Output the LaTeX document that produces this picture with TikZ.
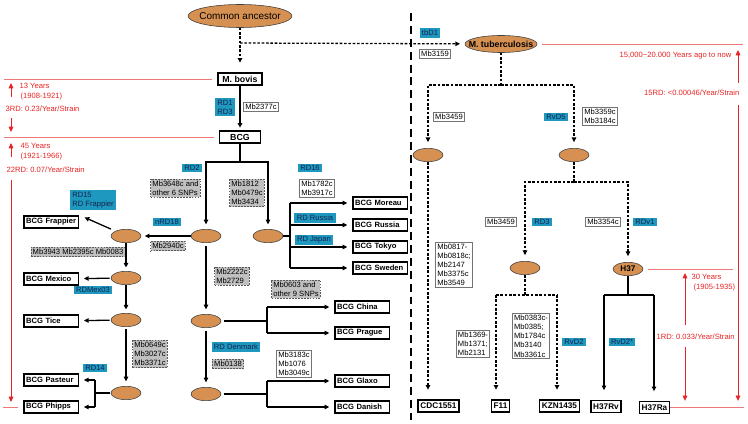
\documentclass[tikz,border=0pt]{standalone}
\usepackage{fontspec}
\setmainfont{Liberation Sans}
\usepackage{xcolor}
\usepackage{tikz}
\usetikzlibrary{arrows.meta,positioning,shapes.geometric}

\begin{document}
\begin{tikzpicture}[x=0.03cm,y=-0.03cm,line width=1.1pt,
  >={Triangle[length=4pt,width=3.8pt]},
  dsh/.style={dash pattern=on 2.2pt off 1.5pt},
  ell/.style={ellipse,draw=black!75,line width=0.5pt,fill=ellfill,inner sep=0pt,
    minimum width=0.9cm,minimum height=0.4cm},
  leaf/.style={draw,line width=1.3pt,fill=white,anchor=west,text width=1.5cm,
    inner xsep=2pt,inner ysep=1.5pt,minimum height=0.37cm,
    font=\bfseries\fontsize{6.5}{7}\selectfont},
  tipbox/.style={draw,line width=1.3pt,fill=white,inner xsep=2pt,inner ysep=1.5pt,
    minimum height=0.37cm,font=\bfseries\fontsize{7}{8}\selectfont},
  rd/.style={fill=rdblue,text=rdtext,inner xsep=2pt,inner ysep=1.5pt,align=left,
    font=\fontsize{6.5}{7.8}\selectfont},
  snp/.style={fill=snpgray,draw=black!65,line width=0.6pt,dash pattern=on 1.5pt off 1pt,
    inner sep=1.5pt,align=left,font=\fontsize{6.5}{7.8}\selectfont},
  mb/.style={fill=white,draw=black!55,line width=0.6pt,inner sep=1.5pt,align=left,
    font=\fontsize{6.5}{7.8}\selectfont},
  redtxt/.style={text=annored,inner sep=0pt,anchor=west,font=\fontsize{6.5}{7.8}\selectfont},
  redln/.style={draw=redline,line width=0.7pt},
  redarr/.style={draw=annored,line width=0.7pt,-{Triangle[length=4.5pt,width=4pt]}},
  ]
  \definecolor{ellfill}{RGB}{214,145,82}
  \definecolor{rdblue}{RGB}{30,152,190}
  \definecolor{rdtext}{RGB}{20,35,80}
  \definecolor{snpgray}{RGB}{192,192,192}
  \definecolor{annored}{RGB}{232,35,35}
  \definecolor{redline}{RGB}{238,120,120}
  \useasboundingbox (0,0) rectangle (748,424);

  % 共同祖先与两支
  \node[ell,minimum width=3.12cm,minimum height=0.69cm] (anc) at (240,16) {};
  \node[font=\fontsize{8.5}{10}\selectfont] (anctxt) at (anc) {Common ancestor};
  \node[tipbox,font=\bfseries\fontsize{7.5}{9}\selectfont,minimum width=1.32cm] (bovis) at (240,79) {M. bovis};
  \node[tipbox,font=\bfseries\fontsize{7.5}{9}\selectfont,minimum width=1.23cm] (bcg) at (240,137) {BCG};
  \node[ell,minimum width=2.16cm,minimum height=0.51cm] (mtb) at (501,44) {};
  \node[font=\bfseries\fontsize{7.5}{9}\selectfont] (mtbtxt) at (mtb) {M. tuberculosis};

  % BCG 各株
  \node[leaf] (frap) at (23,222) {BCG Frappier};
  \node[leaf] (mex) at (23,279) {BCG Mexico};
  \node[leaf] (tice) at (23,321) {BCG Tice};
  \node[leaf] (past) at (23,380) {BCG Pasteur};
  \node[leaf] (phip) at (23,407) {BCG Phipps};
  \node[leaf] (mor) at (352,203) {BCG Moreau};
  \node[leaf] (rus) at (352,225) {BCG Russia};
  \node[leaf] (tok) at (352,247) {BCG Tokyo};
  \node[leaf] (swe) at (352,268) {BCG Sweden};
  \node[leaf] (chi) at (334,307) {BCG China};
  \node[leaf] (pra) at (334,333) {BCG Prague};
  \node[leaf] (gla) at (334,381) {BCG Glaxo};
  \node[leaf] (dan) at (334,407) {BCG Danish};

  % 中间节点
  \node[ell] (e1) at (206,236) {};
  \node[ell] (e2) at (268,236) {};
  \node[ell] (e3) at (126,236) {};
  \node[ell] (e4) at (126,278) {};
  \node[ell] (e5) at (126,320) {};
  \node[ell] (e6) at (126,393) {};
  \node[ell] (e7) at (206,321) {};
  \node[ell] (e8) at (206,394) {};
  \node[ell] (t1) at (428,155) {};
  \node[ell] (t2) at (574,155) {};
  \node[ell] (t3) at (525,268) {};
  \node[ell,font=\bfseries\fontsize{7}{8}\selectfont] (h37) at (628,269) {H37};

  % 结核分枝杆菌各株
  \node[tipbox] (cdc) at (438.5,406) {CDC1551};
  \node[tipbox] (f11) at (500.5,406) {F11};
  \node[tipbox] (kzn) at (559.5,406) {KZN1435};
  \node[tipbox] (rv) at (606,406.5) {H37Rv};
  \node[tipbox] (ra) at (654.5,407.5) {H37Ra};

  % 标注
  \node[rd,align=center] (rd13) at (225,107) {RD1\\RD3};
  \node[mb] (m2377) at (261,107) {Mb2377c};
  \node[rd] (rd2) at (192,168) {RD2};
  \node[snp] (s3648) at (175.5,188) {Mb3648c and\\other 6 SNPs};
  \node[snp] (s1812) at (247,193) {Mb1812\\Mb0479c\\Mb3434};
  \node[rd] (rd16) at (310,168) {RD16};
  \node[mb] (m1782) at (317,188) {Mb1782c\\Mb3917c};
  \node[rd] (rdrus) at (315,218) {RD Russia};
  \node[rd] (rdjap) at (314,240) {RD Japan};
  \node[rd] (rd18) at (167,222) {nRD18};
  \node[snp] (s2940) at (168,246) {Mb2940c};
  \node[rd] (rd15) at (93,200) {RD15\\RD Frappier};
  \node[snp] (s3943) at (78,252) {Mb3943 Mb2395c Mb0083};
  \node[rd] (rdmex) at (93,290) {RDMex03};
  \node[snp] (s0649) at (150,354) {Mb0649c\\Mb3027c\\Mb3371c};
  \node[rd] (rd14) at (95,368) {RD14};
  \node[snp] (s2222) at (232,276) {Mb2222c\\Mb2729};
  \node[snp] (s0603) at (296,289) {Mb0603 and\\other 9 SNPs};
  \node[rd] (rddk) at (236,347) {RD Denmark};
  \node[snp] (s0138) at (228,364) {Mb0138};
  \node[mb] (m3183) at (294,364) {Mb3183c\\Mb1076\\Mb3049c};
  \node[rd] (tbd1) at (430,33) {tbD1};
  \node[mb] (m3159) at (435,54) {Mb3159};
  \node[mb] (m3459a) at (449,117) {Mb3459};
  \node[rd] (rvd5) at (556,117) {RvD5};
  \node[mb] (m3359) at (600,116) {Mb3359c\\Mb3184c};
  \node[mb] (m0817) at (454,265) {Mb0817-\\Mb0818c;\\Mb2147\\Mb3375c\\Mb3549};
  \node[mb] (m3459b) at (501,222) {Mb3459};
  \node[rd] (rd3) at (542,222) {RD3};
  \node[mb] (m3354) at (603,222) {Mb3354c};
  \node[rd] (rdv1) at (645,222) {RDv1};
  \node[mb] (m1369) at (473,344) {Mb1369-\\Mb1371;\\Mb2131};
  \node[mb] (m0383) at (531,336) {Mb0383c-\\Mb0385;\\Mb1784c\\Mb3140\\Mb3361c};
  \node[rd] (rvd2) at (574,342) {RvD2};
  \node[rd] (rvd2s) at (622,342) {RvD2*};

  % 顶部连线
  \coordinate (jt) at (240,43);
  \draw[dsh,->,shorten >=8pt] (anc) -- (bovis);
  \draw[dsh,->,shorten >=4pt] (jt) -- (mtb);
  \draw[->,shorten >=2pt] (bovis) -- (bcg);

  % BCG 分支
  \coordinate (jb) at (240,162);
  \draw (bcg) -- (jb);
  \draw[->,shorten >=4pt] (jb) -| (e1);
  \draw[->,shorten >=4pt] (jb) -| (e2);
  \coordinate (jr) at (290,236);
  \draw (e2) -- (jr);
  \draw (jr|-mor) -- (jr|-swe);
  \foreach \s in {mor,rus,tok,swe}
    \draw[->,shorten >=4pt] (jr|-\s) -- (\s);
  \draw[->,shorten >=3pt] (e1) -- (e3);
  \draw[->,shorten <=4pt,shorten >=5pt] (e3.155) -- (frap.north east);
  \draw[->,shorten >=3pt] (e3) -- (e4);
  \draw[->,shorten <=1pt,shorten >=4pt] (e4) -- (mex);
  \draw[->,shorten >=3pt] (e4) -- (e5);
  \draw[->,shorten <=1pt,shorten >=4pt] (e5) -- (tice);
  \draw[->,shorten <=2pt,shorten >=4pt] (e5) -- (e6);
  \coordinate (jp) at (95,393);
  \draw[shorten <=1pt] (e6) -- (jp);
  \draw (jp|-past) -- (jp|-phip);
  \foreach \s in {past,phip}
    \draw[->,shorten >=4pt] (jp|-\s) -- (\s);
  \draw[->,shorten <=3pt,shorten >=4pt] (e1) -- (e7);
  \coordinate (jc) at (267,321);
  \draw[shorten <=2pt] (e7) -- (jc);
  \draw (jc|-chi) -- (jc|-pra);
  \foreach \s in {chi,pra}
    \draw[->,shorten >=4pt] (jc|-\s) -- (\s);
  \draw[->,shorten <=3pt,shorten >=4pt] (e7) -- (e8);
  \coordinate (jg) at (267,394);
  \draw[shorten <=2pt] (e8) -- (jg);
  \draw (jg|-gla) -- (jg|-dan);
  \foreach \s in {gla,dan}
    \draw[->,shorten >=4pt] (jg|-\s) -- (\s);

  % 分隔线
  \coordinate (sept) at (411,13);
  \coordinate (sepb) at (411,424);
  \draw[line width=1.2pt,dash pattern=on 6.8pt off 4.2pt] (sept) -- (sepb);

  % 结核分枝杆菌分支
  \coordinate (jm) at (501,85);
  \draw[dsh] (mtb) -- (jm);
  \draw[dsh,->,shorten >=5pt] (jm) -| (t1);
  \draw[dsh,->,shorten >=5pt] (jm) -| (t2);
  \draw[dsh,->,shorten >=8pt] (t1) -- (t1|-cdc.north);
  \coordinate (jn) at (574,182);
  \draw[dsh] (t2) -- (jn);
  \draw[dsh,->,shorten >=5pt] (jn) -| (t3);
  \draw[dsh,->,shorten >=5pt] (jn) -| (h37);
  \coordinate (jfl) at (496,295);
  \coordinate (jfr) at (557,295);
  \draw[dsh] (t3) -- (t3|-jfl);
  \draw[dsh] (jfl) -- (jfr);
  \draw[dsh,->,shorten >=8pt] (jfl) -- (jfl|-f11.north);
  \draw[dsh,->,shorten >=8pt] (jfr) -- (jfr|-kzn.north);
  \coordinate (jhl) at (604,295);
  \coordinate (jhr) at (654,295);
  \draw (h37) -- (h37|-jhl);
  \draw (jhl) -- (jhr);
  \draw[->,shorten >=8pt] (jhl) -- (jhl|-rv.north);
  \draw[->,shorten >=8pt] (jhr) -- (jhr|-ra.north);

  % 左侧时间标尺
  \coordinate (ax) at (11,0);
  \node[redtxt] (y13) at (19,86) {13 Years};
  \node[redtxt] (p13) at (20,97) {(1908-1921)};
  \node[redtxt] (r3) at (5,109) {3RD: 0.23/Year/Strain};
  \node[redtxt] (y45) at (20,146) {45 Years};
  \node[redtxt] (p45) at (20,157) {(1921-1966)};
  \node[redtxt] (r22) at (6,170) {22RD: 0.07/Year/Strain};
  \draw[redln] ([xshift=-0.15cm]bovis.west) -- ([xshift=-0.21cm]ax|-bovis);
  \draw[redln] ([xshift=-0.15cm]bcg.west) -- ([xshift=-0.21cm]ax|-bcg);
  \draw[redln] ([xshift=-0.15cm]phip.west) -- ([xshift=-0.24cm]ax|-phip);
  \draw[redarr] (ax|-p13) -- ([yshift=-0.12cm]ax|-bovis);
  \draw[redarr] ([yshift=-0.27cm]ax|-r3) -- ([yshift=0.15cm]ax|-bcg);
  \draw[redarr] (ax|-p45) -- ([yshift=-0.18cm]ax|-bcg);
  \draw[redarr] ([yshift=-0.3cm]ax|-r22) -- ([yshift=0.15cm]ax|-phip);

  % 右侧时间标尺
  \coordinate (bx) at (738,0);
  \coordinate (cx) at (685,0);
  \node[redtxt,anchor=east] (y15) at (732,56) {15,000\textasciitilde20.000 Years ago to now};
  \node[redtxt,anchor=east] (r15) at (740,93) {15RD: <0.00046/Year/Strain};
  \node[redtxt] (y30) at (691,277) {30 Years};
  \node[redtxt] (p30) at (693,288) {(1905-1935)};
  \node[redtxt] (r1) at (656,337) {1RD: 0.033/Year/Strain};
  \draw[redln] ([xshift=0.15cm]mtb.east) -- ([xshift=0.15cm]bx|-mtb);
  \draw[redln] ([xshift=0.15cm]h37.east) -- ([xshift=-0.15cm]bx|-h37);
  \draw[redln] (ra.east) -- ([xshift=0.18cm]bx|-ra);
  \draw[redarr] ([yshift=0.3cm]bx|-r15) -- ([yshift=-0.18cm]bx|-mtb);
  \draw[redarr] ([yshift=-0.36cm]bx|-r15) -- ([yshift=0.2cm]bx|-ra);
  \draw[redarr] ([yshift=0.36cm]cx|-r1) -- ([yshift=-0.12cm]cx|-h37);
  \draw[redarr] ([yshift=-0.3cm]cx|-r1) -- ([yshift=0.2cm]cx|-ra);
\end{tikzpicture}
\end{document}
